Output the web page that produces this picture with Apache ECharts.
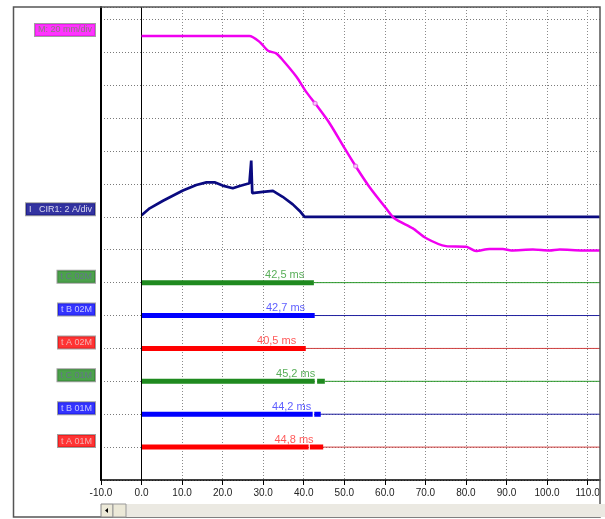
<!DOCTYPE html>
<html>
<head>
<meta charset="utf-8">
<script src="https://cdn.jsdelivr.net/npm/echarts@6/dist/echarts.min.js"></script>
<style>
html,body{margin:0;padding:0;background:#fff;}
#c{width:605px;height:519px;}
</style>
</head>
<body>
<div id="c"></div>
<script>
// ---- data (time in ms, vertical position in divisions) ----
var xTicks = [-10, 0, 10, 20, 30, 40, 50, 60, 70, 80, 90, 100, 110];
var travelTime = [0, 10, 20, 26.6, 29.1, 31.2, 33.2, 34.8, 38.2, 40.6, 42.8, 46.4, 50.1, 52.8, 56.2, 60.3, 62.4, 66.9, 70.2, 75.1, 80.1, 82.5, 85.8, 89.1, 91.2, 96.5, 100.6, 103.1, 108.8, 113];
var travelDiv  = [13.5, 13.5, 13.5, 13.5, 13.32, 13.05, 12.97, 12.77, 12.26, 11.8, 11.45, 10.84, 10.08, 9.54, 8.91, 8.26, 7.95, 7.65, 7.35, 7.11, 7.09, 6.96, 7.02, 7.02, 6.98, 7.01, 6.98, 7.01, 6.98, 6.98];
var travelMarkTime = [42.8, 52.8];
var travelMarkDiv  = [11.45, 9.54];
var currentTime = [0, 2, 5.3, 10.2, 13.5, 16, 18, 20, 22.5, 24.2, 26.6, 26.95, 27.05, 27.3, 29.9, 32.4, 34.8, 37.3, 39, 40.2, 113];
var currentDiv  = [8.05, 8.26, 8.49, 8.8, 8.97, 9.05, 9.05, 8.95, 8.87, 8.94, 9.02, 9.02, 9.71, 8.72, 8.76, 8.79, 8.61, 8.38, 8.18, 8.0, 8.0];
var timerNames  = ['t C 02M', 't B 02M', 't A 02M', 't C 01M', 't B 01M', 't A 01M'];
var timerLevels = [6, 5, 4, 3, 2, 1];
var timerEnds   = [42.5, 42.7, 40.5, 45.2, 44.2, 44.8];
var timerGapStart = [null, null, null, 42.7, 42.2, 41.2];
var timerGapEnd   = [null, null, null, 43.3, 42.6, 41.5];
var timerTexts  = ['42,5 ms', '42,7 ms', '40,5 ms', '45,2 ms', '44,2 ms', '44,8 ms'];
var channelNames = ['M: 20 mm/div', 'I   CIR1: 2 A/div'];

var X_MIN = -10, X_MAX = 113.06;

// ---- styles ----
var timerColors = ['#1f8a1f', '#0000ff', '#ff0000', '#1f8a1f', '#0000ff', '#ff0000'];
var timerThin   = ['#2a9a2a', '#2020a0', '#d04040', '#2a9a2a', '#2020a0', '#d04040'];
var timerTextColors = ['#2e9a2e', '#3535ff', '#ff3030', '#2e9a2e', '#3535ff', '#ff3030'];
var boxText = ['#6a6a9a', '#e8e8ff', '#f0d0d0', '#6a6a9a', '#e8e8ff', '#f0d0d0'];

function zip(a, b) { return a.map(function (v, i) { return [v, b[i]]; }); }

var series = [];

series.push({
  type: 'line', name: 'travel', data: zip(travelTime, travelDiv),
  symbol: 'none', smooth: 0.25,
  lineStyle: { color: '#f000f0', width: 2.5 }, z: 5
});
series.push({
  type: 'scatter', data: zip(travelMarkTime, travelMarkDiv), symbol: 'circle', symbolSize: 4,
  itemStyle: { color: '#ffffff', borderColor: '#e060e0', borderWidth: 1.2 }, z: 6, silent: true
});
series.push({
  type: 'line', name: 'current', data: zip(currentTime, currentDiv),
  symbol: 'none', lineStyle: { color: '#0a0a80', width: 2.7 }, z: 4,
  markLine: {
    silent: true, symbol: 'none', label: { show: false },
    lineStyle: { color: '#000', width: 1, type: 'solid' },
    data: [{ xAxis: 0 }]
  }
});

timerNames.forEach(function (n, i) {
  var lvl = timerLevels[i];
  var thick;
  if (timerGapStart[i] != null) {
    thick = [[0, lvl], [timerGapStart[i], lvl], [timerGapStart[i], '-'], [timerGapEnd[i], lvl], [timerEnds[i], lvl]];
  } else {
    thick = [[0, lvl], [timerEnds[i], lvl]];
  }
  series.push({
    type: 'line', data: [[timerEnds[i], lvl], [X_MAX, lvl]], symbol: 'none',
    lineStyle: { color: timerThin[i], width: 1 }, z: 3, silent: true
  });
  series.push({
    type: 'line', data: thick, symbol: 'none', connectNulls: false,
    lineStyle: { color: timerColors[i], width: 5, cap: 'butt' }, z: 4, silent: true
  });
  series.push({
    type: 'scatter', symbolSize: 0, silent: true, z: 7,
    data: [{ value: [timerEnds[i] - 7.2, lvl] }],
    label: {
      show: true, position: 'top', distance: 2,
      formatter: timerTexts[i], color: timerTextColors[i],
      fontFamily: 'Liberation Sans, Arial, sans-serif', fontSize: 11
    }
  });
});

// channel label boxes at left
var chanData = [
  { value: [X_MIN, travelDiv[0]], name: channelNames[0],
    label: { backgroundColor: '#ff00ff', color: '#6a8a5a' } },
  { value: [X_MIN, currentDiv[0]], name: channelNames[1],
    label: { backgroundColor: '#00008a', color: '#ffffff' } }
];
timerNames.forEach(function (n, i) {
  chanData.push({ value: [X_MIN, timerLevels[i]], name: n,
    label: { backgroundColor: timerColors[i], color: boxText[i] } });
});
series.push({
  type: 'scatter', symbolSize: 0, silent: true, z: 8, data: chanData,
  label: {
    show: true, position: 'left', distance: 6, offset: [0, -6],
    formatter: function (p) { return p.name; },
    fontFamily: 'Liberation Sans, Arial, sans-serif', fontSize: 9,
    padding: [2, 3, 1, 3], borderColor: '#8a8a8a', borderWidth: 1
  }
});

var option = {
  animation: false,
  backgroundColor: '#ffffff',
  grid: { left: 101, right: 5, top: 7, bottom: 39 },
  xAxis: {
    type: 'value', min: X_MIN, max: X_MAX, interval: 10,
    axisLine: { show: true, onZero: false, lineStyle: { color: '#000', width: 1.5 } },
    axisTick: { show: true, customValues: xTicks, length: 5, lineStyle: { color: '#000', width: 1 } },
    axisLabel: { customValues: xTicks, formatter: function (v) { return v.toFixed(1); },
      fontSize: 10, color: '#222', margin: 8, fontFamily: 'Liberation Sans, Arial, sans-serif' },
    splitLine: { show: true, lineStyle: { color: '#8a8a8a', type: [1, 2], width: 1 } }
  },
  yAxis: {
    type: 'value', min: 0, max: 14.38, interval: 1,
    axisLine: { show: true, onZero: false, lineStyle: { color: '#000', width: 2 } },
    axisTick: { show: false },
    axisLabel: { show: false },
    splitLine: { show: true, lineStyle: { color: '#7a7a7a', type: [1, 2], width: 1 } }
  },
  series: series,
  graphic: [
    { type: 'rect', shape: { x: 13.5, y: 7, width: 586.5, height: 510 },
      style: { fill: null, stroke: '#555', lineWidth: 1.5 }, z: 100, silent: true },
    { type: 'rect', shape: { x: 101, y: 504, width: 504, height: 13 },
      style: { fill: '#ebe9e2' }, z: 100, silent: true },
    { type: 'rect', shape: { x: 101, y: 504, width: 12, height: 13 },
      style: { fill: '#ece9d8', stroke: '#888', lineWidth: 1 }, z: 101, silent: true },
    { type: 'polygon', shape: { points: [[105, 510.5], [108, 508], [108, 513]] },
      style: { fill: '#000' }, z: 102, silent: true },
    { type: 'rect', shape: { x: 113, y: 504, width: 13, height: 13 },
      style: { fill: '#ece9d8', stroke: '#999', lineWidth: 1 }, z: 101, silent: true }
  ]
};

var chart = echarts.init(document.getElementById('c'), null, { renderer: 'canvas' });
chart.setOption(option);
</script>
</body>
</html>
